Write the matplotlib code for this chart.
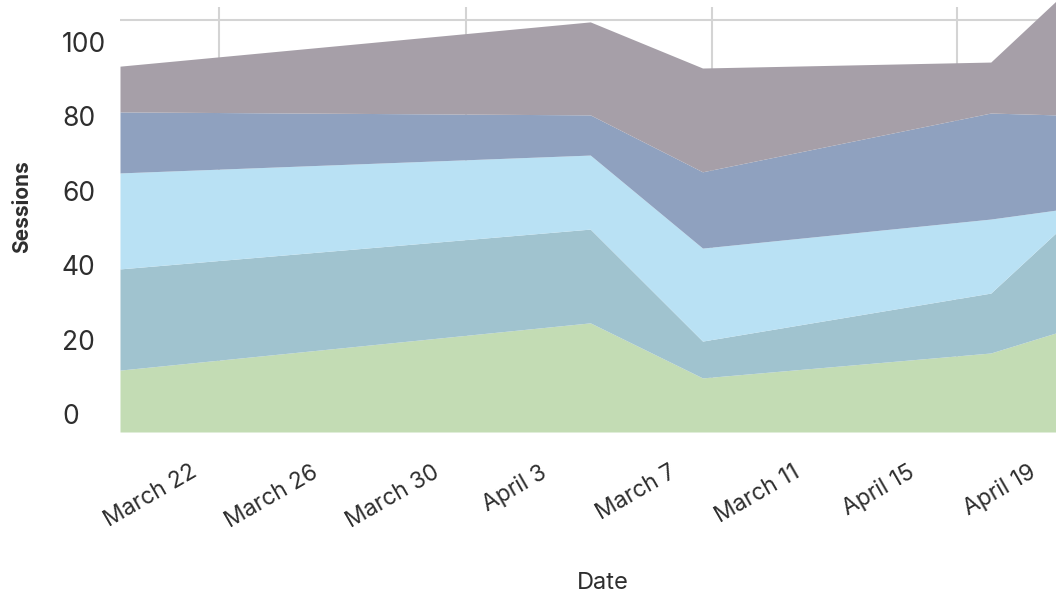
import matplotlib
matplotlib.use("Agg")
import matplotlib.pyplot as plt
import numpy as np

# day offsets from March 22 where the series have points
days = [-1.0, 14.5, 18.2, 27.7, 29.85]

# sessions per layer, bottom to top
green = [11.8, 24.5, 9.7, 16.4, 21.8]
teal = [27.2, 25.2, 9.9, 16.1, 26.9]
light_blue = [25.8, 19.9, 25.0, 19.9, 6.1]
blue_grey = [16.4, 10.8, 20.5, 28.5, 25.6]
grey = [12.3, 25.0, 27.9, 13.7, 30.6]

tick_days = [0, 4, 8, 12, 16, 20, 24, 28]
tick_labels = ["March 22", "March 26", "March 30", "April 3",
               "March 7", "March 11", "April 15", "April 19"]
grid_days = [2.25, 10.4, 18.5, 26.6]

colors = ["#c3dcb4", "#a0c3cf", "#b9e1f4", "#8fa1bf", "#a69fa8"]
text_color = "#2e2e2e"

plt.rcParams['font.family'] = ['Inter', 'DejaVu Sans']

fig = plt.figure(figsize=(10.56, 5.96), dpi=100)
ax = fig.add_axes([120 / 1056, 1 - 432 / 596, 936 / 1056, 425 / 596])

y_bottom = -4.84
ax.set_xlim(-1.0, 29.85)
ax.set_ylim(y_bottom, 109.4)

layers = [green, teal, light_blue, blue_grey, grey]
tops = np.cumsum(np.array(layers), axis=0)
lower = np.full(len(days), y_bottom)
for i, top in enumerate(tops):
	ax.fill_between(days, lower, top, color=colors[i], lw=0, zorder=2,
	                clip_on=(i < len(tops) - 1))
	lower = top

# light grid
ax.set_axisbelow(True)
ax.set_xticks(grid_days, minor=True)
ax.grid(which='minor', axis='x', color='#d4d4d4', lw=1.5)
ax.axhline(105.9, color='#d4d4d4', lw=1.5, zorder=1)

for s in ax.spines.values():
	s.set_visible(False)

ax.set_yticks([0, 20, 40, 60, 80, 100])
ax.tick_params(axis='y', length=0, pad=41.8, labelsize=19, labelcolor=text_color)
for lbl in ax.get_yticklabels():
	lbl.set_horizontalalignment('left')

ax.set_xticks(tick_days)
ax.set_xticklabels(tick_labels, rotation=30, ha='center')
ax.tick_params(axis='x', which='both', length=0, pad=21, labelsize=16.5, labelcolor=text_color)

ax.set_ylabel("Sessions", fontsize=15, fontweight='bold', color=text_color)
ax.yaxis.set_label_coords(-0.094, 0.53)
ax.set_xlabel("Date", fontsize=17, color=text_color)
ax.xaxis.set_label_coords(0.516, -0.33)

fig.savefig("out.png", dpi=100)
